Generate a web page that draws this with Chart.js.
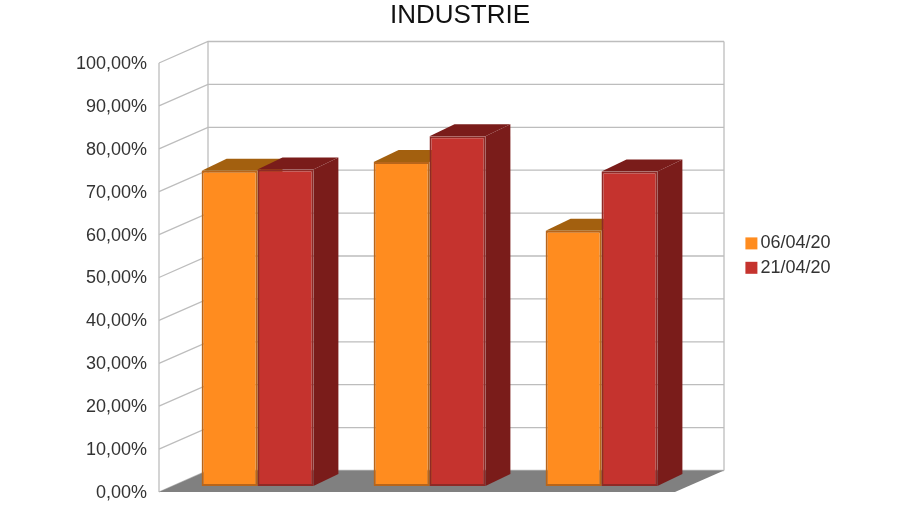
<!DOCTYPE html>
<html lang="fr">
<head>
    <meta charset="UTF-8">
    <title>INDUSTRIE</title>
    <script src="https://cdn.jsdelivr.net/npm/chart.js"></script>
    <style>
        html, body { margin: 0; padding: 0; background: #fff; }
        canvas { display: block; }
    </style>
</head>
<body>
    <canvas id="chart" width="900" height="507"></canvas>
    <script>
        const categories = ['', '', ''];
        const seriesNames = ['06/04/20', '21/04/20'];
        const values0604 = [73.5, 75.5, 59.5];
        const values2104 = [73.8, 81.5, 73.3];

        // pseudo 3D depth, in pixels
        const wallDepth = { x: 49, y: -21.5 };
        const barShift = { x: 12.5, y: -6 };
        const barDepth = { x: 25, y: -12 };
        const gridColor = '#bdbdbd';

        function poly(ctx, points, fill) {
            ctx.beginPath();
            points.forEach((p, i) => i ? ctx.lineTo(p[0], p[1]) : ctx.moveTo(p[0], p[1]));
            ctx.closePath();
            ctx.fillStyle = fill;
            ctx.fill();
        }

        // back wall, side wall, floor and the top/side faces of the bars
        const walls = {
            id: 'walls',
            beforeDatasetsDraw(chart) {
                const { ctx, chartArea: a, scales: { y } } = chart;
                const dx = wallDepth.x, dy = wallDepth.y;
                ctx.save();
                ctx.strokeStyle = gridColor;
                ctx.lineWidth = 1.3;
                y.ticks.forEach(t => {
                    const py = y.getPixelForValue(t.value);
                    ctx.beginPath();
                    ctx.moveTo(a.left, py);
                    ctx.lineTo(a.left + dx, py + dy);
                    ctx.lineTo(a.right + dx, py + dy);
                    ctx.stroke();
                });
                ctx.beginPath();
                ctx.moveTo(a.left, a.top);
                ctx.lineTo(a.left, a.bottom);
                ctx.moveTo(a.left + dx, a.top + dy);
                ctx.lineTo(a.left + dx, a.bottom + dy);
                ctx.moveTo(a.right + dx, a.top + dy);
                ctx.lineTo(a.right + dx, a.bottom + dy);
                ctx.stroke();
                poly(ctx, [[a.left, a.bottom], [a.left + dx, a.bottom + dy], [a.right + dx, a.bottom + dy], [a.right, a.bottom]], '#808080');

                // faces go first, left series before right one, fronts are drawn by the library after
                ctx.translate(barShift.x, barShift.y);
                chart.data.datasets.forEach((ds, i) => {
                    chart.getDatasetMeta(i).data.forEach(bar => {
                        const l = bar.x - bar.width / 2, r = bar.x + bar.width / 2;
                        const t = bar.y, b = bar.base;
                        const bx = barDepth.x, by = barDepth.y;
                        poly(ctx, [[r, t], [r + bx, t + by], [r + bx, b + by], [r, b]], ds.sideColor);
                        poly(ctx, [[l, t], [l + bx, t + by], [r + bx, t + by], [r, t]], ds.topColor);
                    });
                });
                ctx.restore();
            },
            beforeDatasetDraw(chart) {
                chart.ctx.save();
                chart.ctx.translate(barShift.x, barShift.y);
            },
            afterDatasetDraw(chart) {
                chart.ctx.restore();
            },
            afterLayout(chart) {
                // title is centred 10px right of the picture centre, legend sits right of the plot
                const title = chart.titleBlock, legend = chart.legend;
                title.left = 0;
                title.right = 920;
                title.top = 0;
                legend.left = 745;
                legend.right = 900;
                legend.top = 228;
                legend.bottom = 300;
            }
        };

        new Chart(document.getElementById('chart'), {
            type: 'bar',
            data: {
                labels: categories,
                datasets: [
                    {
                        label: seriesNames[0],
                        data: values0604,
                        backgroundColor: '#ff8c1f',
                        borderColor: '#b8651a',
                        borderWidth: 2,
                        borderSkipped: false,
                        sideColor: '#a3600f',
                        topColor: '#a3600f',
                        clip: false
                    },
                    {
                        label: seriesNames[1],
                        data: values2104,
                        backgroundColor: '#c5332e',
                        borderColor: '#8e2a26',
                        borderWidth: 2,
                        borderSkipped: false,
                        sideColor: '#7a1c1a',
                        topColor: '#7a1c1a',
                        clip: false
                    }
                ]
            },
            options: {
                responsive: false,
                animation: false,
                layout: { padding: { left: 0, right: 225, top: 0, bottom: 15 } },
                datasets: { bar: { categoryPercentage: 0.65, barPercentage: 1 } },
                scales: {
                    x: { display: false },
                    y: {
                        min: 0,
                        max: 100,
                        afterFit(axis) { axis.width = 159; },
                        grid: { display: false, drawTicks: true, tickLength: 12 },
                        border: { display: false },
                        ticks: {
                            stepSize: 10,
                            padding: 0,
                            labelOffset: 1,
                            color: '#333333',
                            font: { family: '"Liberation Sans"', size: 18 },
                            callback: v => v.toFixed(2).replace('.', ',') + '%'
                        }
                    }
                },
                plugins: {
                    title: {
                        display: true,
                        text: 'INDUSTRIE',
                        color: '#111111',
                        padding: { top: 0, bottom: 31.8 },
                        font: { family: '"Liberation Sans"', size: 26, weight: 'normal' }
                    },
                    legend: {
                        position: 'chartArea',
                        align: 'start',
                        labels: {
                            usePointStyle: true,
                            pointStyle: 'rect',
                            boxWidth: 0.01,
                            boxHeight: 12,
                            padding: 6.4,
                            color: '#333333',
                            font: { family: '"Liberation Sans"', size: 18 },
                            generateLabels: chart => Chart.defaults.plugins.legend.labels.generateLabels(chart)
                                .map(item => ({ ...item, lineWidth: 0 }))
                        }
                    },
                    tooltip: { enabled: false }
                }
            },
            plugins: [walls]
        });
    </script>
</body>
</html>
